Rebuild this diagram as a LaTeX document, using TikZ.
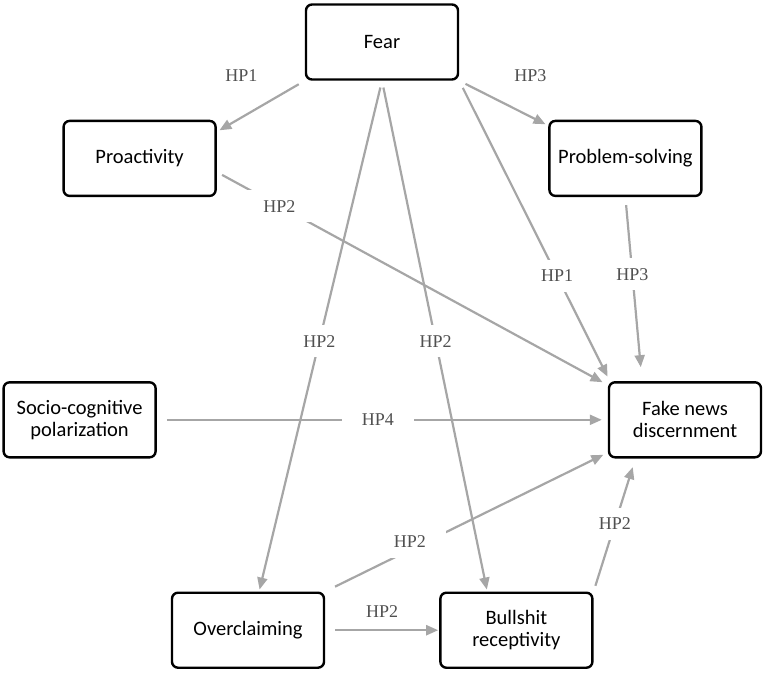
\documentclass[tikz,border=0pt]{standalone}
\usepackage{fontspec}
\setmainfont{Liberation Serif}
\newfontfamily\boxfont{Carlito}
\newfontfamily\hpfont{Liberation Serif}
\usepackage{xcolor}
\usetikzlibrary{arrows.meta,positioning}
\definecolor{linegray}{HTML}{A6A6A6}
\definecolor{hpgray}{HTML}{505050}

\begin{document}
\begin{tikzpicture}[x=1pt, y=-1pt,
varnode/.style={rectangle, rounded corners=6pt, draw=black, line width=2.4pt, fill=white, minimum width=152pt, minimum height=75pt, align=center, inner sep=2pt, font=\boxfont\fontsize{20.5}{22}\selectfont},
hplink/.style={draw=linegray, line width=2.2pt, -{Triangle[length=12pt,width=10pt]}},
hplabel/.style={font=\hpfont\fontsize{18}{18}\selectfont, text=hpgray, inner sep=1pt},
hpgap/.style={hplabel, fill=white, inner xsep=20pt, inner ysep=10pt}
]
\useasboundingbox (0,0) rectangle (765,673);
% Constructs
%Nodes
\node[varnode]        (fear)     at (382,42)   {Fear};
\node[varnode]        (proact)   [below left=39pt and 88pt of fear]   {Proactivity};
\node[varnode]        (probsolv) [below right=39pt and 89pt of fear]  {Problem-solving};
\node[varnode]        (socio)    [below=184pt of proact, xshift=-60pt] {Socio-cognitive\\polarization};
\node[varnode]        (fakenews) [right=451pt of socio]  {Fake news\\discernment};
\node[varnode]        (overcl)   [below right=133pt and 14pt of socio] {Overclaiming};
\node[varnode]        (bullsh)   [right=114pt of overcl] {Bullshit\\receptivity};
% Hypotheses
%Lines
\draw[hplink, shorten <=7pt, shorten >=3pt] (fear.south west) -- node[hplabel, pos=0.72, yshift=42pt] {HP1} (proact.19);
\draw[hplink, shorten <=7pt, shorten >=3pt] (fear.south east) -- node[hplabel, pos=0.8, yshift=41pt] {HP3} (probsolv.157);
\draw[hplink, shorten <=6pt, shorten >=6pt] (proact.-10) -- node[hpgap, pos=0.16] {HP2} ([yshift=-4pt]fakenews.north west);
\draw[hplink, shorten <=8pt, shorten >=5pt] (fear.south east) -- node[hpgap, pos=0.65] {HP1} ([xshift=2pt]fakenews.north west);
\draw[hplink, shorten <=8pt, shorten >=14pt] (probsolv.south) -- node[hpgap, pos=0.42] {HP3} (fakenews.138);
\draw[hplink, shorten <=7pt, shorten >=2pt] (fear.south) -- node[hpgap, pos=0.51] {HP2} (overcl.74);
\draw[hplink, shorten <=7pt, shorten >=2pt] (fear.south) -- node[hpgap, pos=0.51] {HP2} (bullsh.127);
\draw[hplink, shorten <=10pt, shorten >=6pt] (socio.east) -- node[hpgap, pos=0.49] {HP4} (fakenews.west);
\draw[hplink, shorten <=11pt, shorten >=5pt] (overcl.north east) -- node[hpgap, pos=0.3, yshift=8pt] {HP2} (fakenews.203);
\draw[hplink, shorten <=10pt, shorten >=1pt] (overcl.east) -- node[hplabel, pos=0.5, yshift=19pt] {HP2} (bullsh.west);
\draw[hplink, shorten <=6pt, shorten >=9pt] (bullsh.north east) -- node[hpgap, pos=0.51] {HP2} (fakenews.218);

\end{tikzpicture}
\end{document}
